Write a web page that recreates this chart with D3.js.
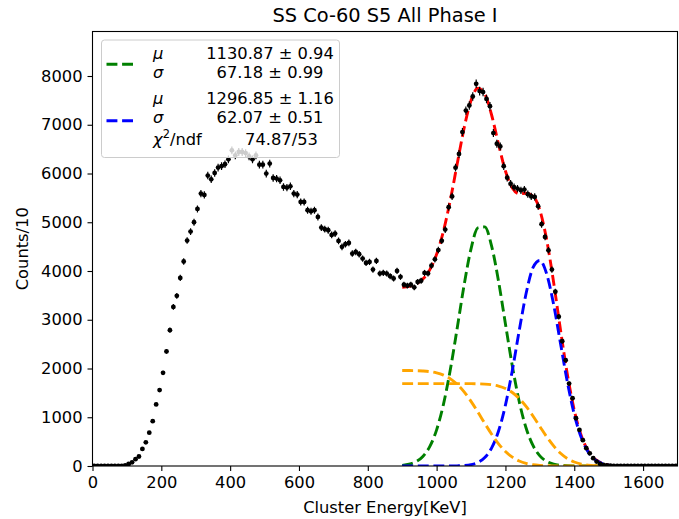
<!DOCTYPE html>
<html>
<head>
<meta charset="utf-8">
<script src="https://cdn.jsdelivr.net/npm/d3@7/dist/d3.min.js"></script>
<style>
  body { margin: 0; background: #fff; }
  svg { display: block; font-family: 'DejaVu Sans', sans-serif; }
</style>
</head>
<body>
<div id="chart"></div>
<script>
// histogram, 10 keV bins (counts/10)
var binWidth = 10;
var counts = [
  0, 0, 0, 0, 0, 0, 0, 1, 3, 10,
  41, 76, 140, 195, 350, 485, 683, 920, 1264, 1557,
  1912, 2350, 2787, 3264, 3490, 3859, 4195, 4625, 4809, 5000,
  5273, 5588, 5560, 5957, 5881, 6010, 6121, 6150, 6190, 6290,
  6475, 6373, 6441, 6441, 6420, 6352, 6291, 6373, 6182, 6182,
  5998, 6203, 5908, 5895, 5861, 5724, 5711, 5738, 5588, 5567,
  5416, 5416, 5246, 5225, 5246, 5109, 4891, 4857, 4836, 4740,
  4768, 4617, 4495, 4549, 4577, 4358, 4392, 4344, 4255, 4166,
  4187, 4030, 4207, 3948, 3962, 3948, 3893, 3846, 4002, 3880,
  3720, 3700, 3720, 3665, 3775, 3800, 3960, 3950, 4110, 4240,
  4430, 4620, 4850, 5310, 5530, 6120, 6400, 6850, 7290, 7395,
  7580, 7840, 7690, 7670, 7530, 7380, 6830, 6610, 6555, 6150,
  5915, 5790, 5720, 5690, 5655, 5670, 5575, 5530, 5520, 5330,
  4960, 4700, 4425, 4030, 3575, 3063, 2560, 2170, 1690, 1390,
  980, 740, 530, 365, 260, 160, 90, 45, 22, 12,
  7, 4, 3, 2, 1, 1, 1, 0, 0, 0,
  0, 0, 0, 0, 0, 0, 0, 0, 0, 0
];

// fit curves, sampled every 20 keV from 900 to 1500
var fitStart = 900, fitStep = 20;
var totalFit = [3663, 3684, 3733, 3834, 4024, 4342, 4822, 5462, 6204, 6936, 7499, 7751, 7632, 7195, 6600, 6051,
  5702, 5585, 5594, 5540, 5246, 4634, 3767, 2791, 1878, 1145, 630, 313, 140, 57, 21];
var gaus1 = [14, 36, 87, 195, 398, 742, 1269, 1983, 2837, 3717, 4455, 4886, 4905, 4506, 3788, 2914,
  2052, 1322, 780, 421, 208, 94, 39, 15, 5, 2, 0, 0, 0, 0, 0];
var gaus2 = [0, 0, 0, 0, 0, 0, 0, 1, 3, 9, 28, 73, 173, 371, 717, 1250,
  1961, 2775, 3538, 4067, 4215, 3936, 3314, 2515, 1721, 1061, 590, 295, 133, 54, 20];
var bkg1 = [1959, 1958, 1956, 1949, 1936, 1910, 1863, 1788, 1674, 1520, 1327, 1106, 874, 651, 455, 297,
  181, 102, 53, 26, 12, 5, 2, 1, 0, 0, 0, 0, 0, 0, 0];
var bkg2 = [1690, 1690, 1690, 1690, 1690, 1690, 1690, 1690, 1690, 1690, 1689, 1686, 1680, 1667, 1640, 1590,
  1508, 1386, 1223, 1026, 811, 599, 412, 261, 152, 82, 40, 18, 7, 3, 1];

var xTicks = [0, 200, 400, 600, 800, 1000, 1200, 1400, 1600];
var yTicks = [0, 1000, 2000, 3000, 4000, 5000, 6000, 7000, 8000];

var width = 679, height = 519;
var margin = { top: 31.5, right: 1.5, bottom: 53, left: 92.5 };
var fontSize = '16.3px';

var svg = d3.select('#chart').append('svg')
  .attr('width', width)
  .attr('height', height);

var x = d3.scaleLinear().domain([0, 1700]).range([margin.left, width - margin.right]);
var y = d3.scaleLinear().domain([0, 8913]).range([height - margin.bottom, margin.top]);

svg.append('defs').append('clipPath')
  .attr('id', 'plotClip')
  .append('rect')
  .attr('x', margin.left)
  .attr('y', margin.top)
  .attr('width', width - margin.right - margin.left)
  .attr('height', height - margin.bottom - margin.top);

var plot = svg.append('g').attr('clip-path', 'url(#plotClip)');

// fit curves
var fitLine = d3.line()
  .x(function (d, i) { return x(fitStart + i * fitStep); })
  .y(function (d) { return y(d); })
  .curve(d3.curveMonotoneX);

var curves = [
  { values: totalFit, color: 'red' },
  { values: gaus1, color: 'green' },
  { values: gaus2, color: 'blue' },
  { values: bkg1, color: 'orange' },
  { values: bkg2, color: 'orange' }
];

plot.selectAll('path.fit')
  .data(curves)
  .enter()
  .append('path')
  .attr('class', 'fit')
  .attr('d', function (d) { return fitLine(d.values); })
  .style('fill', 'none')
  .style('stroke', function (d) { return d.color; })
  .style('stroke-width', 2.9)
  .style('stroke-dasharray', '10.9,4.7');

// data points with error bars
var pts = plot.selectAll('g.pt')
  .data(counts)
  .enter()
  .append('g')
  .attr('class', 'pt')
  .attr('transform', function (d, i) {
    return 'translate(' + x(i * binWidth + binWidth / 2) + ',' + y(d) + ')';
  });

pts.append('line')
  .attr('x1', x(0) - x(binWidth / 2))
  .attr('x2', x(binWidth / 2) - x(0))
  .attr('y1', 0)
  .attr('y2', 0)
  .style('stroke', 'black')
  .style('stroke-width', 1.2);

pts.append('line')
  .attr('x1', 0)
  .attr('x2', 0)
  .attr('y1', function (d) { return y(d + Math.sqrt(d)) - y(d); })
  .attr('y2', function (d) { return y(d - Math.sqrt(d)) - y(d); })
  .style('stroke', 'black')
  .style('stroke-width', 1.2);

pts.append('circle')
  .attr('r', 2.4)
  .style('fill', 'black');

// axes frame
svg.append('rect')
  .attr('x', margin.left)
  .attr('y', margin.top)
  .attr('width', width - margin.right - margin.left)
  .attr('height', height - margin.bottom - margin.top)
  .style('fill', 'none')
  .style('stroke', 'black')
  .style('stroke-width', 1.1);

var xAxis = svg.append('g')
  .attr('transform', 'translate(0,' + (height - margin.bottom) + ')')
  .call(d3.axisBottom(x).tickValues(xTicks).tickSize(5).tickPadding(5).tickFormat(d3.format('d')));
var yAxis = svg.append('g')
  .attr('transform', 'translate(' + margin.left + ',0)')
  .call(d3.axisLeft(y).tickValues(yTicks).tickSize(5).tickPadding(5).tickFormat(d3.format('d')));

[xAxis, yAxis].forEach(function (ax) {
  ax.select('.domain').remove();
  ax.selectAll('.tick line').style('stroke', 'black').style('stroke-width', 1.1);
  ax.selectAll('.tick text')
    .style('font-family', 'DejaVu Sans')
    .style('font-size', fontSize)
    .style('fill', 'black');
});

svg.append('text')
  .attr('x', (margin.left + width - margin.right) / 2)
  .attr('y', 513)
  .attr('text-anchor', 'middle')
  .style('font-size', fontSize)
  .text('Cluster Energy[KeV]');

svg.append('text')
  .attr('transform', 'translate(28,' + ((margin.top + height - margin.bottom) / 2) + ') rotate(-90)')
  .attr('text-anchor', 'middle')
  .style('font-size', fontSize)
  .text('Counts/10');

svg.append('text')
  .attr('x', (margin.left + width - margin.right) / 2)
  .attr('y', 22)
  .attr('text-anchor', 'middle')
  .style('font-size', '19.4px')
  .text('SS Co-60 S5 All Phase I');

// legend
var legend = svg.append('g');
legend.append('rect')
  .attr('x', 101.5)
  .attr('y', 40)
  .attr('width', 238)
  .attr('height', 117.5)
  .attr('rx', 3)
  .style('fill', 'white')
  .style('fill-opacity', 0.8)
  .style('stroke', '#cccccc')
  .style('stroke-width', 1);

var handles = [
  { y: 64.3, color: 'green' },
  { y: 120.7, color: 'blue' }
];
legend.selectAll('line.handle')
  .data(handles)
  .enter()
  .append('line')
  .attr('class', 'handle')
  .attr('x1', 106.5)
  .attr('x2', 136.5)
  .attr('y1', function (d) { return d.y; })
  .attr('y2', function (d) { return d.y; })
  .style('stroke', function (d) { return d.color; })
  .style('stroke-width', 2.9)
  .style('stroke-dasharray', '10.9,4.7');

var rows = [
  { sym: 'μ', val: '1130.87 ± 0.94', y: 58.5 },
  { sym: 'σ', val: '67.18 ± 0.99', y: 77.5 },
  { sym: 'μ', val: '1296.85 ± 1.16', y: 104 },
  { sym: 'σ', val: '62.07 ± 0.51', y: 123 }
];
rows.forEach(function (r) {
  legend.append('text')
    .attr('x', 153)
    .attr('y', r.y)
    .style('font-size', fontSize)
    .style('font-style', 'italic')
    .text(r.sym);
  legend.append('text')
    .attr('x', 270)
    .attr('y', r.y)
    .attr('text-anchor', 'middle')
    .style('font-size', fontSize)
    .text(r.val);
});

var chi = legend.append('text')
  .attr('x', 153)
  .attr('y', 144.5)
  .style('font-size', fontSize);
chi.append('tspan').style('font-style', 'italic').text('χ');
chi.append('tspan').attr('dy', -6.5).style('font-size', '11.4px').text('2');
chi.append('tspan').attr('dy', 6.5).text('/ndf');
legend.append('text')
  .attr('x', 281.5)
  .attr('y', 144.5)
  .attr('text-anchor', 'middle')
  .style('font-size', fontSize)
  .text('74.87/53');
</script>
</body>
</html>
